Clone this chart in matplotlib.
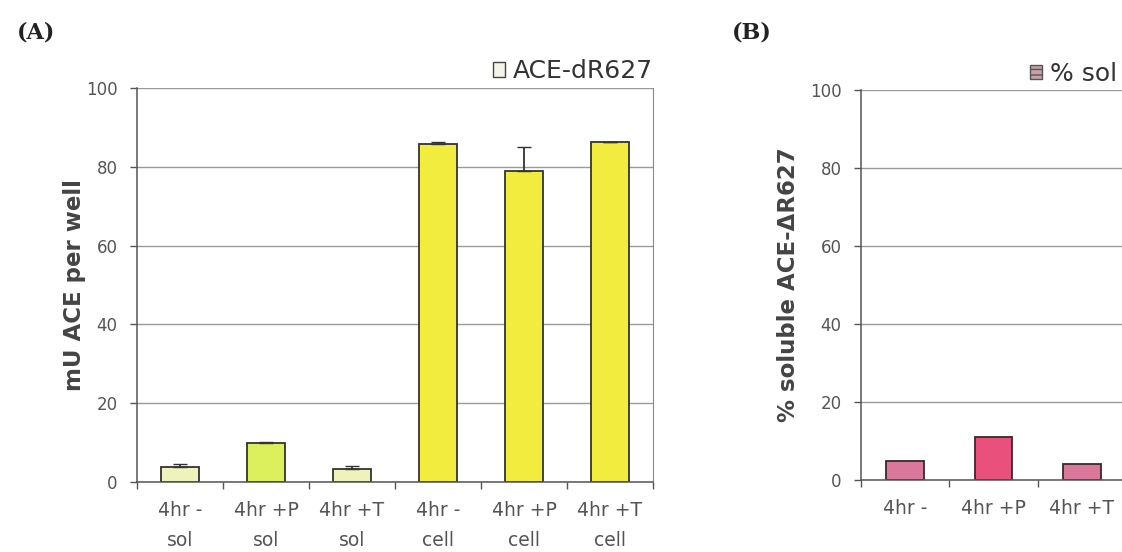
import matplotlib.pyplot as plt
import numpy as np
from matplotlib.patches import Patch

plt.rcParams['font.family'] = ['DejaVu Sans']

# panel A: ACE activity per well
cond_a = ["4hr -\nsol", "4hr +P\nsol", "4hr +T\nsol",
          "4hr -\ncell", "4hr +P\ncell", "4hr +T\ncell"]
activity = [3.8, 9.9, 3.4, 85.8, 79.0, 86.3]
activity_err = [0.7, 0.3, 0.6, 0.4, 6.0, 0.0]
colors_a = ["#eef3bc", "#dcef5c", "#eef3bc", "#f1ec3e", "#f1ec3e", "#f1ec3e"]

# panel B: percent soluble
cond_b = ["4hr -", "4hr +P", "4hr +T"]
pct_sol = [4.8, 11.0, 4.1]
colors_b = ["#d9789a", "#e9507c", "#d9789a"]

W, H = 1122, 552
fig = plt.figure(figsize=(W / 100, H / 100), dpi=100)


def px_axes(left, top, right, bottom):
    return fig.add_axes([left / W, 1 - bottom / H, (right - left) / W, (bottom - top) / H])


def style(ax, n):
    ax.set_ylim(0, 100)
    ax.set_xlim(-0.5, n - 0.5)
    ax.set_yticks(np.arange(0, 101, 20))
    ax.yaxis.grid(True, color="#9a9a9a", lw=1)
    ax.set_axisbelow(True)
    ax.spines["top"].set_visible(False)
    for s in ["left", "bottom"]:
        ax.spines[s].set_color("#555555")
        ax.spines[s].set_linewidth(1.1)
    ax.spines["right"].set_color("#8a8a8a")
    ax.tick_params(axis="y", length=5, width=1, color="#555555", pad=9,
                   labelsize=12, labelcolor="#555555")
    ax.set_xticks(np.arange(n))
    ax.set_xticks(np.arange(n + 1) - 0.5, minor=True)
    ax.tick_params(axis="x", which="major", length=0, pad=13.5,
                   labelsize=13.5, labelcolor="#555555")
    ax.tick_params(axis="x", which="minor", length=5, width=1, color="#555555")


ax1 = px_axes(137, 88, 653, 482)
x1 = np.arange(len(cond_a))
ax1.bar(x1, activity, 0.44, color=colors_a, edgecolor="#333333", linewidth=1.3,
        yerr=[np.zeros(len(activity_err)), activity_err], capsize=5,
        error_kw=dict(ecolor="#333333", elinewidth=1.3))
style(ax1, len(cond_a))
ax1.set_xticklabels(cond_a, linespacing=1.75)
ax1.set_ylabel("mU ACE per well", fontsize=16.5, fontweight="bold", color="#444444", labelpad=0)
ax1.legend(handles=[Patch(facecolor="#f4f4e8", edgecolor="#444444", label="ACE-dR627")],
           loc="lower right", bbox_to_anchor=(1.0, 1.012), frameon=False, fontsize=18,
           handlelength=0.5, handleheight=0.5, handletextpad=0.3, borderaxespad=0.0,
           borderpad=0.0, labelcolor="#333333")

ax2 = px_axes(861, 90, 1126, 480)
x2 = np.arange(len(cond_b))
ax2.bar(x2, pct_sol, 0.43, color=colors_b, edgecolor="#3a2a2a", linewidth=1.3)
style(ax2, len(cond_b))
ax2.set_xticklabels(cond_b)
ax2.set_ylabel("% soluble ACE-\u0394R627", fontsize=16.5, fontweight="bold", color="#444444",
               labelpad=7)
ax2.legend(handles=[Patch(facecolor="#c8a0aa", edgecolor="#555555", hatch="---", label="% sol")],
           loc="lower right", bbox_to_anchor=(0.965, 1.01), frameon=False, fontsize=18,
           handlelength=0.5, handleheight=0.5, handletextpad=0.3, borderaxespad=0.0,
           borderpad=0.0, labelcolor="#333333")

fig.text(17 / W, 1 - 33 / H, "(A)", family="DejaVu Serif", fontweight="bold",
         fontsize=16, va="center", ha="left", color="#222222")
fig.text(732 / W, 1 - 33 / H, "(B)", family="DejaVu Serif", fontweight="bold",
         fontsize=16, va="center", ha="left", color="#222222")

fig.savefig("out.png", dpi=100)
